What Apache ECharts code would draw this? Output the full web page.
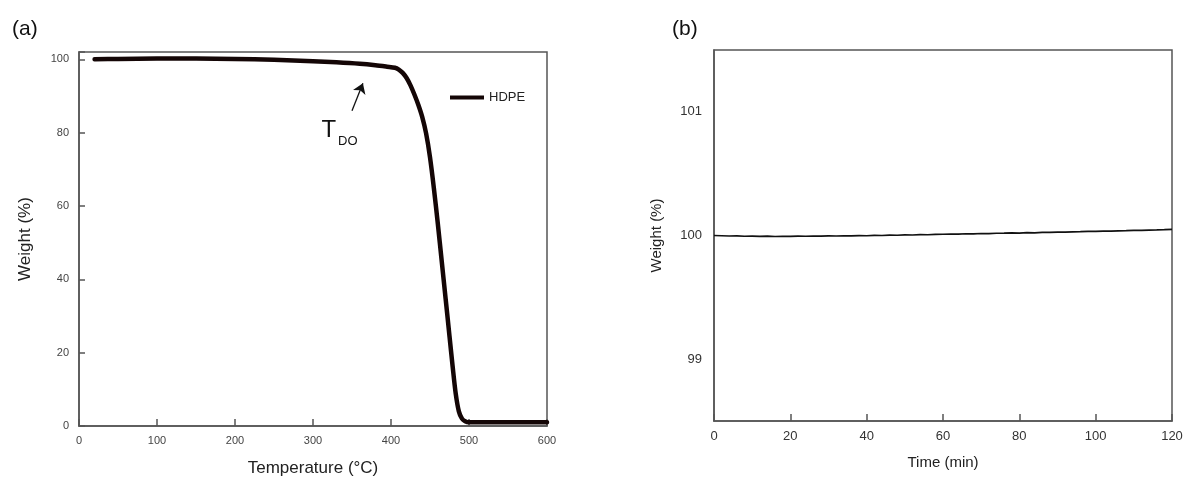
<!DOCTYPE html>
<html>
<head>
<meta charset="utf-8">
<script src="https://cdn.jsdelivr.net/npm/echarts@6/dist/echarts.min.js"></script>
<style>
  html, body { margin: 0; padding: 0; background: #fff; }
  #chart { width: 1193px; height: 482px; }
</style>
</head>
<body>
<div id="chart"></div>
<script>
// (a) TGA curve of HDPE: temperature (°C) vs remaining weight (%)
const tempC = [20, 50, 100, 150, 200, 250, 300, 330, 360, 380, 395, 405, 410, 415, 420, 425, 430, 435, 440, 445, 450, 455, 460, 465, 470, 475, 479, 483, 487, 491, 495, 500, 520, 550, 600];
const weightA = [100.0, 100.1, 100.2, 100.2, 100.1, 99.9, 99.5, 99.2, 98.8, 98.4, 98.0, 97.7, 97.2, 96.3, 94.9, 92.9, 90.4, 87.6, 84.3, 79.8, 73.3, 64.8, 55.2, 45.0, 34.8, 24.5, 16.3, 8.8, 4.0, 2.0, 1.3, 1.0, 1.0, 1.0, 1.0];

// (b) isothermal hold: time (min) vs weight (%)
const timeMin = [0, 2, 4, 6, 8, 10, 12, 14, 16, 18, 20, 22, 24, 26, 28, 30, 32, 34, 36, 38, 40, 42, 44, 46, 48, 50, 52, 54, 56, 58, 60, 62, 64, 66, 68, 70, 72, 74, 76, 78, 80, 82, 84, 86, 88, 90, 92, 94, 96, 98, 100, 102, 104, 106, 108, 110, 112, 114, 116, 118, 120];
const weightB = [100.000, 99.998, 99.996, 99.997, 99.994, 99.995, 99.993, 99.995, 99.992, 99.994, 99.993, 99.995, 99.994, 99.996, 99.995, 99.997, 99.996, 99.998, 99.997, 99.999, 99.998, 100.001, 100.000, 100.003, 100.002, 100.005, 100.004, 100.007, 100.006, 100.009, 100.010, 100.012, 100.011, 100.014, 100.013, 100.016, 100.015, 100.018, 100.019, 100.021, 100.020, 100.023, 100.022, 100.025, 100.026, 100.028, 100.027, 100.030, 100.031, 100.033, 100.034, 100.036, 100.035, 100.038, 100.039, 100.041, 100.042, 100.044, 100.045, 100.047, 100.050];

// tick labels
const ticksA_x = [0, 100, 200, 300, 400, 500, 600];
const ticksA_y = [0, 20, 40, 60, 80, 100];
const ticksB_y = [99, 100, 101];

const FONT = 'Liberation Sans, Arial, sans-serif';
const AXIS_COLOR = '#555';

function zipXY(xs, ys) { return xs.map((x, i) => [x, ys[i]]); }

const chart = echarts.init(document.getElementById('chart'), null, { renderer: 'canvas' });

const axisLineStyle = { show: true, lineStyle: { color: AXIS_COLOR, width: 1.5 } };

chart.setOption({
  animation: false,
  backgroundColor: '#fff',
  title: [
    { text: '(a)', left: 7, top: 14, textStyle: { fontFamily: FONT, fontSize: 21, fontWeight: 'normal', color: '#111' } },
    { text: '(b)', left: 667, top: 14, textStyle: { fontFamily: FONT, fontSize: 21, fontWeight: 'normal', color: '#111' } }
  ],
  legend: {
    data: ['HDPE'],
    left: 445, top: 86,
    icon: 'rect', itemWidth: 34, itemHeight: 4, itemGap: 7,
    textStyle: { fontFamily: FONT, fontSize: 13, color: '#222' }
  },
  grid: [
    { left: 79, right: 646, top: 52, bottom: 55, show: true, borderColor: AXIS_COLOR, borderWidth: 1.5, containLabel: false },
    { left: 714, right: 21, top: 50, bottom: 61, show: true, borderColor: AXIS_COLOR, borderWidth: 1.5, containLabel: false }
  ],
  xAxis: [
    {
      gridIndex: 0, type: 'value', min: 0, max: 600, interval: 100,
      name: 'Temperature (°C)', nameLocation: 'middle', nameGap: 34,
      nameTextStyle: { fontFamily: FONT, fontSize: 17, color: '#222' },
      axisLine: axisLineStyle,
      axisTick: { show: true, inside: true, length: 7, lineStyle: { color: AXIS_COLOR, width: 1.5 } },
      axisLabel: { fontFamily: FONT, fontSize: 11, color: '#444', margin: 9,
        formatter: v => ticksA_x.includes(v) ? String(v) : '' },
      splitLine: { show: false }
    },
    {
      gridIndex: 1, type: 'value', min: 0, max: 120, interval: 20,
      name: 'Time (min)', nameLocation: 'middle', nameGap: 34,
      nameTextStyle: { fontFamily: FONT, fontSize: 15, color: '#222' },
      axisLine: axisLineStyle,
      axisTick: { show: true, inside: true, length: 7, lineStyle: { color: AXIS_COLOR, width: 1.5 } },
      axisLabel: { fontFamily: FONT, fontSize: 13, color: '#333', margin: 9 },
      splitLine: { show: false }
    }
  ],
  yAxis: [
    {
      gridIndex: 0, type: 'value', min: 0, max: 102, interval: 20,
      name: 'Weight (%)', nameLocation: 'middle', nameGap: 45,
      nameTextStyle: { fontFamily: FONT, fontSize: 17, color: '#222' },
      axisLine: axisLineStyle,
      axisTick: { show: true, inside: true, length: 6, lineStyle: { color: AXIS_COLOR, width: 1.5 } },
      axisLabel: { fontFamily: FONT, fontSize: 11, color: '#444', margin: 10,
        formatter: v => ticksA_y.includes(v) ? String(v) : '' },
      splitLine: { show: false }
    },
    {
      gridIndex: 1, type: 'value', min: 98.5, max: 101.5, interval: 0.5,
      name: 'Weight (%)', nameLocation: 'middle', nameGap: 50,
      nameTextStyle: { fontFamily: FONT, fontSize: 15, color: '#222' },
      axisLine: axisLineStyle,
      axisTick: { show: false },
      axisLabel: { fontFamily: FONT, fontSize: 13, color: '#333', margin: 12,
        formatter: v => ticksB_y.includes(v) ? String(v) : '' },
      splitLine: { show: false }
    }
  ],
  series: [
    {
      name: 'HDPE', type: 'line', xAxisIndex: 0, yAxisIndex: 0,
      data: zipXY(tempC, weightA),
      smooth: 0.3, showSymbol: false,
      lineStyle: { color: '#140606', width: 4.5, join: 'round', cap: 'round' },
      itemStyle: { color: '#140606' },
      markLine: {
        silent: true,
        symbol: ['none', 'arrow'], symbolSize: 10,
        lineStyle: { color: '#111', width: 1.3, type: 'solid' },
        label: { show: false },
        data: [[{ coord: [350, 86] }, { coord: [364, 93.5] }]]
      },
      markPoint: {
        silent: true,
        symbol: 'circle', symbolSize: 0,
        data: [{ coord: [334, 80.5] }],
        label: {
          show: true, position: 'inside',
          formatter: '{t|T}{s|DO}',
          rich: {
            t: { fontFamily: FONT, fontSize: 24, color: '#111', lineHeight: 30 },
            s: { fontFamily: FONT, fontSize: 13, color: '#111', lineHeight: 30, padding: [22, 0, 0, 2] }
          }
        }
      }
    },
    {
      name: 'isothermal', type: 'line', xAxisIndex: 1, yAxisIndex: 1,
      data: zipXY(timeMin, weightB),
      showSymbol: false,
      lineStyle: { color: '#111', width: 1.7 },
      itemStyle: { color: '#111' }
    }
  ]
});
</script>
</body>
</html>
